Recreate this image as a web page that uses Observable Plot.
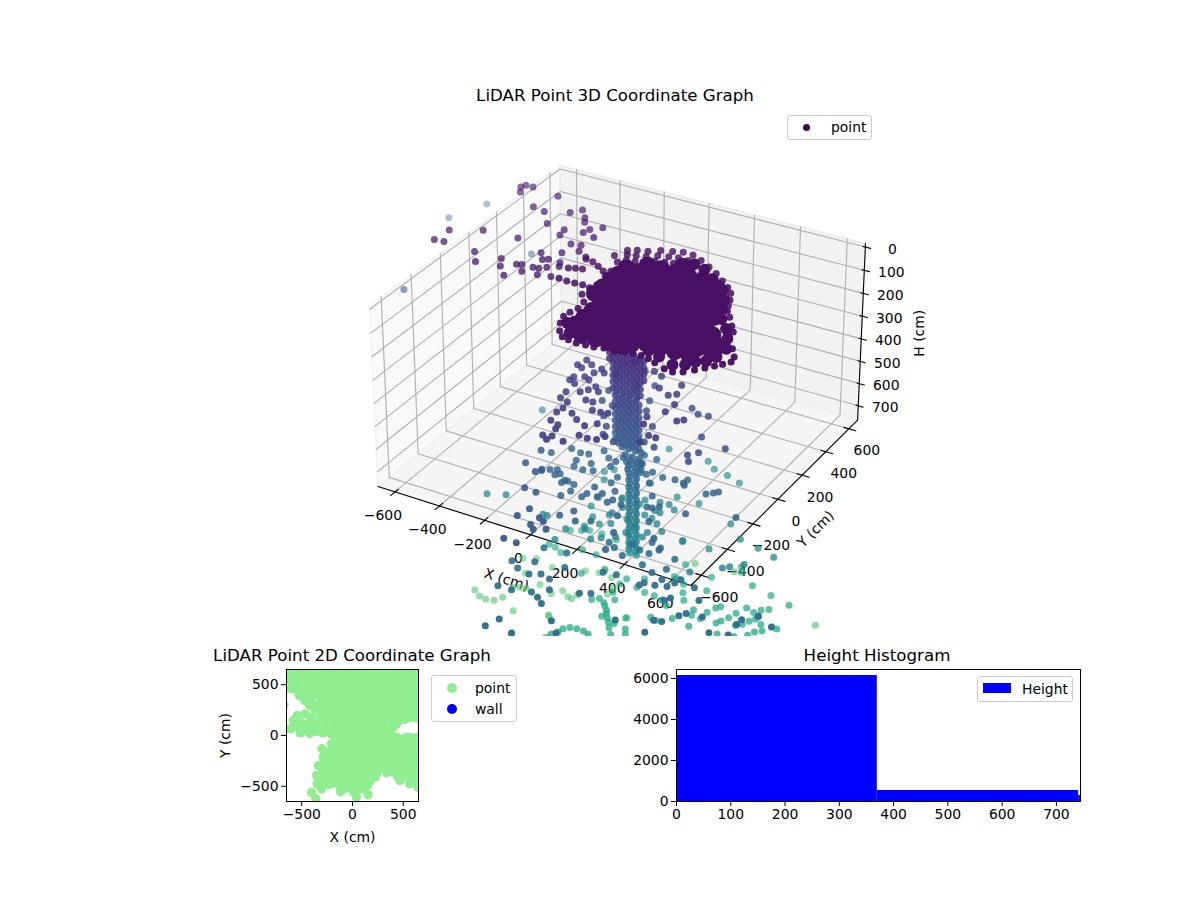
<!DOCTYPE html>
<html><head><meta charset="utf-8">
<script src="https://cdn.jsdelivr.net/npm/d3@7"></script>
<script src="https://cdn.jsdelivr.net/npm/@observablehq/plot@0.6"></script>
<style>
body{margin:0;background:#fff;font-family:"DejaVu Sans",sans-serif;color:#000}
#root{position:relative;width:1200px;height:900px;overflow:hidden}
#root>svg,#root>div{position:absolute}
.t{font-size:16.67px;white-space:nowrap;transform:translateX(-50%)}
.lg{border:1px solid #ccc;border-radius:3px;background:rgba(255,255,255,.8);box-sizing:border-box;font-size:13.9px}
.lg span{position:absolute;white-space:nowrap;line-height:16px}
.lg i{position:absolute;display:block}
</style></head><body><div id="root"></div>
<script>
// Value lists (cm)
const xTicks3D=[-600,-400,-200,0,200,400,600];
const yTicks3D=[-600,-400,-200,0,200,400,600];
const hTicks3D=[0,100,200,300,400,500,600,700];
const limXY=[-677,677], limH=[765.6,-15.6];
// Dense centre of the top disc (rows of Y, with X values per row)
const coreY=[-300,-240,-180,-120,-60,0,60,120,180,240,300,360];
const coreX=[[0,60,120,180],[-60,0,60,120,180,240,300,360,420],[-60,0,60,120,180,240,300,360,420,480],[-60,0,60,120,180,240,300,360,420,480],[-60,0,60,120,180,240,300,360,420],[-120,-60,0,60,120,180,240,300,360],[-120,-60,0,60,120,180,240,300,360],[-120,-60,0,60,120,180,240,300],[-120,-60,0,60,120,180,240,300],[-120,-60,0,60,120,180,240],[-60,0,60,120,180],[60]];
// Band between the centre and the rim, H = 100
const bandX=[286,326,356,389,440,480,513,510,492,462,440,400,328,273,209,142,75,15,-44,-90,146,209,255,91];
const bandY=[264,200,130,63,5,-59,-127,-198,-243,-268,-306,-328,-299,-279,-281,-301,-313,-320,-310,-249,376,325,290,396];
// Rim of the top disc, H = 100
const rimX=[-189,-171,-152,-130,-156,-137,-118,-100,-116,-100,-88,-73,-77,-65,-52,-40,-33,-24,-15,-7,6,12,17,23,50,56,61,60,-210,-174,-128,99,151,200,249,292,323,346,362,380,409,448,474,487,532,566,574,555,536,513,488,459,426,389,337,302,268,235,191,167,123,87,53,16,-21,-52,-84,-113,-129,-124,-113,-121,-158,-143,-148,-158,-158,-299,-262,-228,-194,-160,-311,-287,-260,-290,-256,-219,-184,-149];
const rimY=[369,336,296,256,388,346,305,263,401,359,313,270,432,387,342,297,448,401,354,307,462,413,364,315,460,412,363,311,305,265,222,436,404,371,330,293,259,211,168,127,91,35,-2,-56,-116,-166,-205,-234,-261,-291,-323,-356,-374,-369,-347,-332,-325,-327,-325,-347,-346,-357,-359,-363,-357,-349,-315,-262,-211,-173,-133,-77,-28,7,64,145,189,39,34,36,38,31,128,141,148,226,219,197,174,158];
// Outliers above the disc, H = 200
const highX=[-993,-951,-987,-869,-800,-752,-678,-647,-595,-714,-942,-920,-932,-899,-767,-804,-744,-678,-568,-534,-515,-600,-582,-552,-532,-508,-485,-485,-432,-447,-460,-497,-649,-617,-574,-555,-591,-582,-513,-504,-467,-456,-505,-465,-446,-398];
const highY=[233,238,333,399,226,157,229,172,114,411,804,764,828,829,807,676,662,576,348,302,316,216,226,177,228,232,183,254,197,284,312,388,706,750,696,662,563,515,580,616,655,565,471,482,434,405];
// Far outliers
const farX=[-1630,-1704,-1204,-1397];
const farY=[1612,1413,1298,594];
const farH=[800,800,800,700];
// Central column: H rows with X values
const stemH=[320,334,348,362,376,390,404,418,432,446,460,474,488,502,516,530,544,558,572,586,600,614,628,642,656,670,684,698,712,726,740,770,786,800,816,832,848,864,880,896,912,928,944,960,976,992,1008,1024,1040,1056,1072,1088,1104,1120,1136,1152,1168,1184,1200,1216];
const stemX=[[-40,-10,20,50,80],[-55,-25,5,35,65,95],[-40,-10,20,50,80],[-55,-25,5,35,65,95],[-40,-10,20,50,80],[-25,5,35,65,95],[-40,-10,20,50,80],[-25,5,35,65,95],[-40,-10,20,50,80],[-25,5,35,65],[-40,-10,20,50,80],[-25,5,35,65],[-40,-10,20,50,80],[-25,5,35,65],[-30,0,30,60],[-15,15,45,75],[-30,0,30,60],[-15,15,45,75],[-30,0,30,60],[-15,15,45,75],[-30,0,30,60],[-15,15,45,75],[-30,0,30,60],[-15,15,45,75],[-30,0,30,60],[-15,15,45,75],[-30,0,30,60],[-15,15,45,75],[-30,0,30,60],[-15,15,45,75],[0,30,60,85],[15,45,75],[5,35,65,85],[20,50,80],[30,60,85],[25,55,80],[30,60],[35,65],[30,60],[35,65],[30,60],[35,65],[30,60],[35,65],[30,60],[35,65],[30,60],[35,65],[30,60],[35,65],[30,60],[35,65],[30,60],[35,65],[30,60],[35,65],[30,60],[35,65],[30,60],[35,65]];
// Scattered points by height band
const g450X=[-214,-189,-203,-167,-118,-94,-128,-143,-118,-180,-181,-150,-147,-141,-100,-81,-68,-40,-50,-19,-103,-94,-99,-86,-47,-39,-45,-6,43,60,98,132,-23,-57,-29,32,76,72,45,10,148,146,202,226,256,252,323,342,211,69,66,109,209,227,315,284,280,-35];
const g450Y=[29,17,79,56,48,26,7,-37,-49,-57,-85,-101,-170,-220,-144,-115,-82,-110,-186,-187,-234,-281,-318,-382,-396,-425,-297,-328,-353,-422,-427,-417,-478,-488,-507,-490,-317,-231,-238,-240,-382,30,-1,22,-49,-113,-152,-132,-180,-5,133,113,91,-233,-297,-296,-351,157];
const g600X=[204,246,288,340,459,357,386,383,-125,-13,-72,68,7,35,62,140,170,221,-142,-178,-95,-5,-61];
const g600Y=[185,157,162,13,-18,-128,-94,-167,63,-97,49,-184,-156,152,80,-11,-127,-142,142,255,346,264,-34];
const g700X=[-226,-161,-145,-135,-82,-42,-57,18,43,22,47,84,-18,38,-223];
const g700Y=[-341,-377,-358,-496,-502,-613,-675,-704,-726,-648,-662,-703,-832,-836,-233];
const g800X=[-267,-214,-168,-154,-138,-96,-58,-92,-136,-96,-53,-15,-206,-234,-182,-156,-170,-116,-119,-102,-70,-57,5,0,7,56,46,114,104,51,26,-73,113,198,247,286,291,271,250,132,80,56,289,297,399,420,433,400,576,-17,47,145,173,90,157,185,229,307,231,381,264,436,67,118,-4];
const g800Y=[-87,-21,-31,-87,-131,-135,-122,-79,-23,27,-11,-62,-197,-212,-183,-205,-221,-236,-256,-237,-246,-292,-276,-306,-221,-247,-163,-268,-292,-277,-408,-338,72,-32,-23,-28,-223,-243,-246,-43,18,76,0,-40,-54,-34,-17,-216,-144,-19,-117,-17,-92,-210,-280,-355,-168,-331,-463,-424,-579,-483,-466,-437,-461];
const g1100X=[-584,-514,-736,-311,-293,-180,-176,-114,-58,-27,-46,-84,-82,18,-100,-66,38,74,111,155,58,82,83,120,257,43,-16,-19,110,37,46,109,260,544,483,503,389];
const g1100Y=[-63,-32,611,-83,-82,-129,-217,-92,-143,-116,-8,45,64,-82,172,118,113,106,81,41,160,157,229,204,26,226,210,172,7,-34,17,-31,19,-6,-68,-47,-156];
const g1200X=[-206,-19,33,103,172,6,106,289,375,466,549,302,-347,-316,-267,-260,-214,-163,-207,-183,-87,-139,-320];
const g1200Y=[746,741,697,681,655,434,435,364,283,261,234,160,457,401,272,202,136,102,59,319,189,472,490];
const g900X=[-77,-33,25,0,63,-20,-33,24,95,132,166,86,65,172,215,108,144,117,252,289,256,255,310,302,72,453,172,208,261,307,299,340,357,449,443,359,313,256,423,465,469,508,521,530,414,415,543,556,654,599,654,716,639,785,852,846,848,890,963,718,777,574,603,584,579];
const g900Y=[-687,-718,-732,-650,-709,-551,-856,-854,-829,-847,-876,-1038,-1099,-1092,-1114,-723,-783,-628,-749,-729,-584,-953,-1011,-1085,-539,-834,-395,-418,-450,-574,-385,-388,-467,-449,-374,-334,-316,-364,-570,-564,-518,-549,-515,-484,-496,-592,-634,-609,-572,-506,-668,-659,-695,-735,-714,-639,-604,-554,-591,-860,-801,-766,-758,-848,-903];
const g1500X=[-503,-469,-429,-64,-97,-103,-99,-32,14,59,100,135,200,122,151,-35,39,76,95,18,-144,-121,-90,-54,-50,-75,-43,-6,16,45,-24,-138,-118,-91,-60,-32,-143,-159,262,281,366,463,558,193,224,57,244,299,314,327,391,402,421,460,478,502,487,488,473,460,440,524,366,376,297,256,121,82,148,62,177,593,549,527,514,471,406,283,-481,-441,-411,-356,-281,-212,-295,-363,-206,-278];
const g1500Y=[271,264,241,52,95,161,208,175,157,156,144,119,51,16,6,243,-39,-106,-139,-95,7,28,11,-30,-75,-7,-50,-99,-131,-168,-75,-227,-207,-200,-200,-211,-256,-282,516,482,416,391,365,389,292,418,146,158,202,219,167,209,263,249,278,299,238,212,186,153,133,189,109,132,105,108,287,309,232,316,187,192,151,129,96,62,44,36,405,428,444,449,439,434,299,304,218,151];
const g1800X=[-833,-791,-756,-722,-703,-612,-786,-735,-716,-618,-462,-541,-526,-387,-386,-367,-707,-680,-653,-506,-448,-443,-383,-338,-443,-448,-469,-511,-641,-469,-397,-177,-336,-131,43,522];
const g1800Y=[208,179,172,183,220,157,516,544,423,381,197,345,3,64,-33,-4,305,320,327,567,582,620,575,511,392,354,359,388,518,202,58,349,460,848,875,688];
// 2D chart
const core2Y=[580,450,320,190,60,-70,-200,-330,-430];
const core2X=[[-650,-520,-390,-260,-130,0,130,260,390,520,650],[-390,-260,-130,0,130,260,390,520,650],[-260,-130,0,130,260,390,520,650],[-260,-130,0,130,260,390],[-130,0,130,260],[-100,30,160,290,420,550,650],[-170,-40,90,220,350,480,610],[-240,-110,20,150,470,600,650],[-240,-110,40]];
const edge2X=[-643,-584,-525,-469,-420,-371,-676,-544,-469,-403,-584,-607,-512,-420,-354,-289,-207,-174,-207,-289,-338,-354,-348,-305,-403,-361,-207,-118,-43,13,39,154,89,171,220,236,335,466,564,646,433,499,597,656,433,531,646,367,-650,-590,-530,-470,-410,-340,-300,-500,-420,-350,-540,-470,-420,-340,-270,-300,-250,-170,-80,0,90,150,320,270,390,440,520,580,650,-150,-60,460,520,580,330,400,470,530,590,650,460,520,580,640,460,520,640,560,400,300,350,400,420,540,620,-30,90,150,-170,-300,-250,-200,-380,-450,-560,-520];
const edge2Y=[466,459,394,344,295,256,302,197,213,180,148,66,26,66,39,26,16,-16,-82,-213,-295,-394,-476,-525,-561,-623,-476,-551,-508,-558,-607,-584,-525,-449,-410,-377,-367,-443,-476,-508,115,171,203,213,-23,-33,-33,49,500,500,470,420,360,300,240,120,130,120,90,90,20,50,70,-130,-160,-100,-450,-520,-430,-490,-265,-300,-320,-400,-400,-430,-440,-470,-520,150,160,180,60,-10,-40,-70,-70,-90,200,230,240,240,150,160,170,190,80,-330,-330,-360,-350,-400,-440,-420,-450,-420,-430,50,40,60,70,60,90,70];
// Histogram
const binStart=[0,370,741], binEnd=[370,741,1112], binCount=[6146,537,292];

const minus=d=>String(d).replace("-","\u2212");
const FONT={fontFamily:"DejaVu Sans",fontSize:"13.9px",background:"transparent"};
const root=document.getElementById("root");

// 3D view: elev 30, azim -60, dist 10
const k=1.8294640721620434/Math.hypot(4,4,3), A=[4*k,4*k,2.35*k];
const el=30*Math.PI/180, az=-60*Math.PI/180, dist=10;
const n=[Math.cos(el)*Math.cos(az),Math.cos(el)*Math.sin(az),Math.sin(el)];
const nh=Math.hypot(n[0],n[1]), e1=[-n[1]/nh,n[0]/nh,0];
const e2=[n[1]*e1[2]-n[2]*e1[1],n[2]*e1[0]-n[0]*e1[2],n[0]*e1[1]-n[1]*e1[0]];
const dot3=(a,b)=>a[0]*b[0]+a[1]*b[1]+a[2]*b[2];
function proj(x,y,h){
  const r=[((x-limXY[0])/(limXY[1]-limXY[0])-.5)*A[0],((y-limXY[0])/(limXY[1]-limXY[0])-.5)*A[1],((h-limH[0])/(limH[1]-limH[0])-.5)*A[2]];
  const d=dist-dot3(r,n);
  return {px:dot3(r,e1)*dist/d,py:dot3(r,e2)*dist/d,d};
}
const [xa,xb]=limXY,[hb,ht]=limH;
const P=(x,y,h,id)=>({...proj(x,y,h),id});
const pane=(c)=>c.map(q=>P(...q));
const leftPane=pane([[xa,xa,hb],[xa,xb,hb],[xa,xb,ht],[xa,xa,ht],[xa,xa,hb]]);
const backPane=pane([[xa,xb,hb],[xb,xb,hb],[xb,xb,ht],[xa,xb,ht],[xa,xb,hb]]);
const floorPane=pane([[xa,xa,hb],[xb,xa,hb],[xb,xb,hb],[xa,xb,hb],[xa,xa,hb]]);
const grid=[];
xTicks3D.forEach(v=>{const id="x"+v;grid.push(P(v,xa,hb,id),P(v,xb,hb,id),P(v,xb,ht,id));});
yTicks3D.forEach(v=>{const id="y"+v;grid.push(P(xb,v,hb,id),P(xa,v,hb,id),P(xa,v,ht,id));});
hTicks3D.forEach(v=>{const id="h"+v;grid.push(P(xa,xa,v,id),P(xa,xb,v,id),P(xb,xb,v,id));});
const axes=[P(xa,xa,hb,"X"),P(xb,xa,hb,"X"),P(xb,xa,hb,"Y"),P(xb,xb,hb,"Y"),P(xb,xb,hb,"H"),P(xb,xb,ht,"H")];
const ticks=[];
xTicks3D.forEach(v=>ticks.push(P(v,xa+22,hb,"tx"+v),P(v,xa-30,hb,"tx"+v)));
yTicks3D.forEach(v=>ticks.push(P(xb-22,v,hb,"ty"+v),P(xb+30,v,hb,"ty"+v)));
hTicks3D.forEach(v=>ticks.push(P(xb-10,xb,v,"th"+v),P(xb+22,xb,v,"th"+v)));
const xLab=xTicks3D.map(v=>({...proj(v,xa,hb),t:minus(v)}));
const yLab=yTicks3D.map(v=>({...proj(xb,v,hb),t:minus(v)}));
const hLab=hTicks3D.map(v=>({...proj(xb,xb,v),t:String(v)}));

// points
const pts=[];
const add=(xs,ys,h)=>xs.forEach((x,i)=>pts.push({x,y:ys[i],h:Array.isArray(h)?h[i]:h}));
add(rimX,rimY,100);add(highX,highY,200);add(farX,farY,farH);
add(g450X,g450Y,450);add(g600X,g600Y,600);add(g700X,g700Y,700);add(g800X,g800Y,800);add(g900X,g900Y,900);
add(g1100X,g1100Y,1100);add(g1200X,g1200Y,1200);add(g1500X,g1500Y,1500);add(g1800X,g1800Y,1800);
stemX.forEach((r,i)=>r.forEach(x=>pts.push({x,y:0,h:stemH[i]})));
pts.forEach(p=>Object.assign(p,proj(p.x,p.y,p.h)));
const dExt=d3.extent(pts,p=>p.d);
pts.forEach(p=>p.alpha=1-(p.d-dExt[0])/(dExt[1]-dExt[0])*.62);
pts.sort((a,b)=>b.d-a.d);
const core=coreX.flatMap((r,i)=>r.map(x=>({...proj(x,coreY[i],100),h:100})));
const band=bandX.map((x,i)=>({...proj(x,bandY[i],100),h:100}));

const c1=proj(xa,xa,ht),c2=proj(xb,xb,ht),c3=proj(xa,xb,ht),c4=proj(xb,xa,hb);
const lineOpts=(extra)=>({x:"px",y:"py",...extra});
const chart3=Plot.plot({width:1200,height:636,margin:0,style:FONT,
  x:{domain:[c1.px,c2.px],range:[369,865],axis:null},
  y:{domain:[c4.py,c3.py],range:[585,165],axis:null},
  color:{type:"linear",scheme:"viridis",domain:[0,2500]},
  marks:[
    Plot.line(leftPane,lineOpts({fill:"#f9f9f9",stroke:"#f3f3f3"})),
    Plot.line(backPane,lineOpts({fill:"#f2f2f2",stroke:"#ececec"})),
    Plot.line(floorPane,lineOpts({fill:"#f5f5f5",stroke:"#efefef"})),
    Plot.line(grid,lineOpts({z:"id",stroke:"#b0b0b0",strokeWidth:1.1})),
    Plot.line(axes,lineOpts({z:"id",stroke:"#000",strokeWidth:1.1})),
    Plot.line(ticks,lineOpts({z:"id",stroke:"#000",strokeWidth:1.1})),
    Plot.text(xLab,{x:"px",y:"py",text:"t",dx:-12,dy:24}),
    Plot.text(yLab,{x:"px",y:"py",text:"t",dx:18,dy:22}),
    Plot.text(hLab,{x:"px",y:"py",text:"t",dx:27,dy:2}),
    Plot.text([{t:"X (cm)"}],{x:()=>proj(0,xa,hb).px,y:()=>proj(0,xa,hb).py,text:"t",dx:-24,dy:45,rotate:17}),
    Plot.text([{t:"Y (cm)"}],{x:()=>proj(xb,0,hb).px,y:()=>proj(xb,0,hb).py,text:"t",dx:38,dy:30,rotate:-45}),
    Plot.text([{t:"H (cm)"}],{x:()=>proj(xb,xb,375).px,y:()=>proj(xb,xb,375).py,text:"t",dx:58,dy:0,rotate:-90}),
    Plot.dot(pts,{x:"px",y:"py",r:3.5,fill:"h",fillOpacity:{value:"alpha",scale:null},stroke:null}),
    Plot.dot(band,{x:"px",y:"py",r:6,fill:"h",stroke:null}),
    Plot.dot(core,{x:"px",y:"py",r:8.5,fill:"h",stroke:null})
  ]});
chart3.style.left="0";chart3.style.top="0";root.append(chart3);

const title=(s,x,y)=>{const d=document.createElement("div");d.className="t";d.textContent=s;d.style.left=x+"px";d.style.top=y+"px";root.append(d);};
title("LiDAR Point 3D Coordinate Graph",615,86);
title("LiDAR Point 2D Coordinate Graph",352,646);
title("Height Histogram",877,646);

const legend=(x,y,w,h,items)=>{const d=document.createElement("div");d.className="lg";d.style.cssText=`left:${x}px;top:${y}px;width:${w}px;height:${h}px`;
 items.forEach(it=>{const i=document.createElement("i");i.style.cssText=it.mark;d.append(i);const s=document.createElement("span");s.textContent=it.text;s.style.left=it.tx+"px";s.style.top=it.ty+"px";d.append(s);});root.append(d);};
legend(787,115,85,25,[{mark:"left:15px;top:8px;width:7px;height:7px;border-radius:50%;background:#440154",text:"point",tx:43,ty:3}]);
legend(431,675,86,47,[{mark:"left:15px;top:7px;width:10px;height:10px;border-radius:50%;background:#90ee90",text:"point",tx:43,ty:4},{mark:"left:15px;top:28px;width:10px;height:10px;border-radius:50%;background:#0000ff",text:"wall",tx:43,ty:25}]);
legend(977,676,96,26,[{mark:"left:5px;top:6px;width:28px;height:10px;background:#0000ff",text:"Height",tx:44,ty:4}]);

const core2=core2X.flatMap((r,i)=>r.map(x=>({x,y:core2Y[i]})));
const edge2=edge2X.map((x,i)=>({x,y:edge2Y[i]}));
const chart2=Plot.plot({width:240,height:200,marginLeft:76,marginRight:32,marginTop:14,marginBottom:54,style:FONT,
  x:{domain:[-650,650]},y:{domain:[-650,650]},
  marks:[
    Plot.dot(core2,{x:"x",y:"y",r:10,fill:"#90ee90",clip:true}),
    Plot.dot(edge2,{x:"x",y:"y",r:4.7,fill:"#90ee90",clip:true}),
    Plot.frame({stroke:"#000"}),
    Plot.axisX({ticks:[-500,0,500],tickFormat:minus,tickSize:5,tickPadding:3,label:"X (cm)",labelAnchor:"center",labelArrow:"none",labelOffset:40}),
    Plot.axisY({ticks:[-500,0,500],tickFormat:minus,tickSize:5,tickPadding:3,label:"Y (cm)",labelAnchor:"center",labelArrow:"none",labelOffset:66})
  ]});
chart2.style.left="210px";chart2.style.top="655px";root.append(chart2);

const bins=binStart.map((a,i)=>({a,b:binEnd[i],c:binCount[i]}));
const hist=Plot.plot({width:490,height:200,marginLeft:56,marginRight:30,marginTop:14,marginBottom:54,style:FONT,
  x:{domain:[0,744.4]},y:{domain:[0,6439]},
  marks:[
    Plot.rectY(bins,{x1:"a",x2:"b",y:"c",fill:"#0000ff",clip:true,inset:0}),
    Plot.frame({stroke:"#000"}),
    Plot.axisX({ticks:[0,100,200,300,400,500,600,700],tickFormat:String,tickSize:5,tickPadding:3,label:null}),
    Plot.axisY({ticks:[0,2000,4000,6000],tickFormat:String,tickSize:5,tickPadding:3,label:null})
  ]});
hist.style.left="620px";hist.style.top="655px";root.append(hist);
</script></body></html>
